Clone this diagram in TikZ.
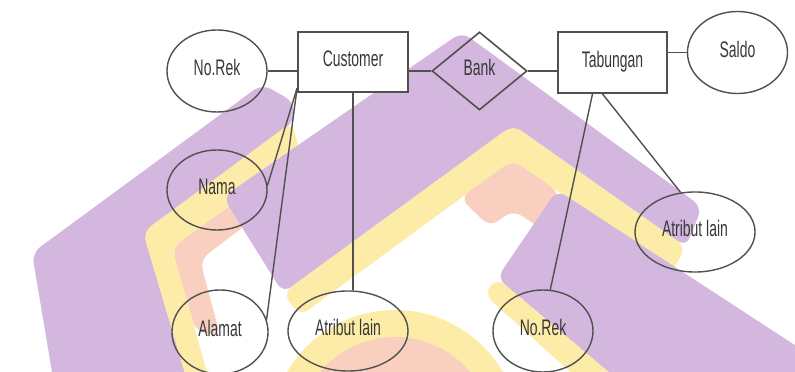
\documentclass[tikz,border=0pt]{standalone}
\usepackage{fontspec}
\newfontfamily\erfont[FakeStretch=0.62]{Liberation Sans}
\usepackage{tikz}
\usetikzlibrary{calc}
\usetikzlibrary{shapes.geometric}
\definecolor{wmpurple}{RGB}{212,183,222}
\definecolor{wmyellow}{RGB}{253,236,168}
\definecolor{wmpeach}{RGB}{249,208,192}
\definecolor{erline}{RGB}{80,80,80}
\definecolor{ertext}{RGB}{55,55,55}
\tikzset{
  erbase/.style={draw=erline, text=ertext, inner sep=0pt, text depth=1.8mm,
    font=\erfont\fontsize{16}{18}\selectfont},
  entity/.style={erbase, rectangle, fill=white, line width=.45mm,
    minimum width=27.5mm, minimum height=15mm},
  attrib/.style={erbase, ellipse, line width=.35mm,
    minimum width=25mm, minimum height=20.5mm},
  relasi/.style={erbase, diamond, line width=.4mm,
    minimum width=23.75mm, minimum height=19.5mm},
  link/.style={draw=erline, line width=.35mm},
  wm/.style={rounded corners=2.5mm}
}

\begin{document}
\begin{tikzpicture}[x=.025cm, y=-.025cm]
\useasboundingbox (0,0) rectangle (795,372);
% watermark behind the diagram
\begin{scope}
\clip (0,0) rectangle (795,372);
\fill[wmpurple, wm] (55,390) -- (32,253) -- (262,84) -- (294,102) -- (294,122) -- (143,232) -- (190,390) -- cycle;
\fill[wmyellow, wm] (143,232) -- (292,122) -- (300,153) -- (172,248) -- (212,390) -- (190,390) -- cycle;
\fill[wmpeach, wm] (172,248) -- (247,193) -- (260,214) -- (200,260) -- (220,335) -- (196,332) -- cycle;
\fill[wmyellow] (395,435) circle (125);
\fill[wmpeach] (395,435) circle (98);
\fill[wmpurple, wm] (223,197) -- (462,32) -- (702,207) -- (686,247) -- (513,125) -- (283,293) -- cycle;
\fill[wmyellow, wm] (283,293) -- (513,125) -- (686,247) -- (672,272) -- (513,160) -- (300,316) -- cycle;
\fill[wmpeach, wm] (460,198) -- (513,160) -- (560,193) -- (546,232) -- (513,210) -- (490,227) -- cycle;
\fill[wmpurple, wm] (497,278) -- (557,190) -- (810,355) -- (810,390) -- (630,390) -- cycle;
\fill[wmyellow, wm] (484,294) -- (497,278) -- (630,390) -- (590,390) -- cycle;
\end{scope}

\node[attrib] (norekc) at (217,71) {No.Rek};
\node[entity] (customer) at (353,62) {Customer};
\node[relasi] (bank) at (479.5,71) {Bank};
\node[entity, minimum width=27.25mm, minimum height=15.25mm] (tabungan) at (612.5,62.5) {Tabungan};
\node[attrib] (saldo) at (737.5,52.5) {Saldo};
\node[attrib, minimum height=20mm] (nama) at (217,190) {Nama};
\node[attrib, minimum width=24mm, minimum height=21mm] (alamat) at (220,332) {Alamat};
\node[attrib, minimum width=30mm, minimum height=20mm] (atribc) at (348,331) {Atribut lain};
\node[attrib] (norekt) at (543,331) {No.Rek};
\node[attrib, minimum width=30mm, minimum height=20mm] (atribt) at (695,232) {Atribut lain};

\draw[link] (norekc.east) -- (norekc.east -| customer.west);
\draw[link] (bank.west) -- (bank.west -| customer.east);
\draw[link] (bank.east) -- (bank.east -| tabungan.west);
\draw[link] (saldo.west) -- (saldo.west -| tabungan.east);
\draw[link] (customer.205) -- (nama.5);
\draw[link] (customer.205) -- (alamat.15);
\draw[link] (customer.south) -- (customer.south |- atribc.north);
\draw[link] ($(tabungan.south)+(-20,0)$) -- (norekt.80);
\draw[link] ($(tabungan.south)+(-10,0)$) -- (atribt.110);
\end{tikzpicture}
\end{document}
